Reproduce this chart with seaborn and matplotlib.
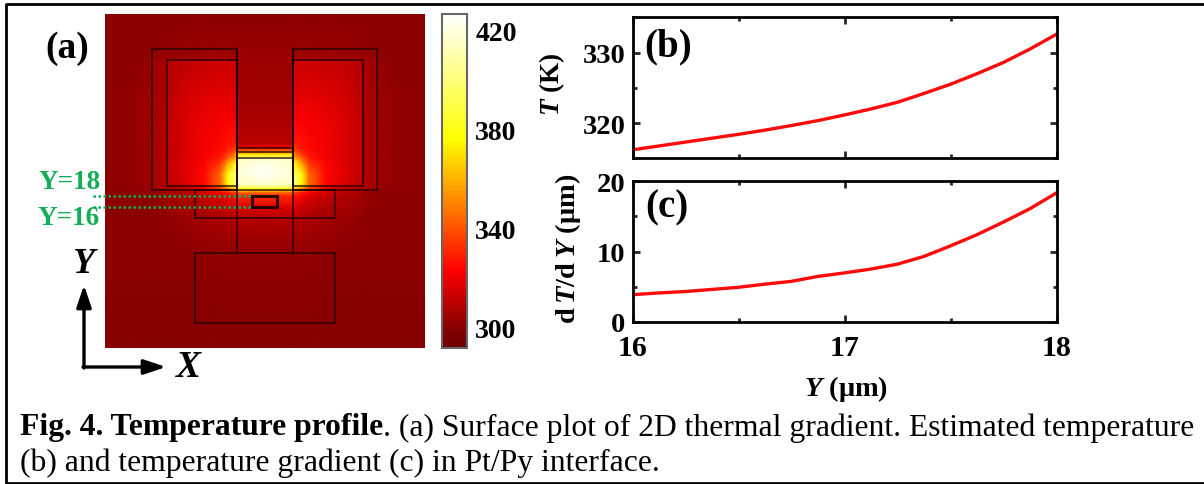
import numpy as np
import pandas as pd
import seaborn as sns
import matplotlib.pyplot as plt
from matplotlib.colors import LinearSegmentedColormap, Normalize
from matplotlib.patches import Rectangle
from matplotlib.transforms import ScaledTranslation

sns.set_theme(style="ticks")
plt.rcParams['font.family'] = ['Liberation Serif', 'DejaVu Serif']
plt.rcParams['text.color'] = 'black'
plt.rcParams['xtick.labelcolor'] = 'black'
plt.rcParams['ytick.labelcolor'] = 'black'
plt.rcParams['mathtext.fontset'] = 'custom'
plt.rcParams['mathtext.rm'] = 'Liberation Serif'
plt.rcParams['mathtext.bf'] = 'Liberation Serif:bold'
plt.rcParams['mathtext.bfit'] = 'Liberation Serif:italic:bold'

# line data, panels (b) and (c)
y_um = [16, 16.125, 16.25, 16.375, 16.5, 16.625, 16.75, 16.875, 17,
        17.125, 17.25, 17.375, 17.5, 17.625, 17.75, 17.875, 18]
temperature = [316.2, 316.75, 317.3, 317.85, 318.4, 319.0, 319.65, 320.35, 321.15,
               322.0, 322.95, 324.2, 325.5, 327.0, 328.6, 330.5, 332.6]
gradient = [3.85, 4.1, 4.3, 4.6, 4.9, 5.35, 5.75, 6.45, 6.95,
            7.5, 8.2, 9.3, 10.8, 12.4, 14.2, 16.1, 18.35]

# surface plot: right half of the device, mirrored below
field_x = [0, 4.9, 5.3, 6.7, 8, 11, 14, 17.6, 18, 20.2, 20.6, 24, 29.1]
field_y = [51.1, 45, 43, 42.5, 36, 31, 27.5, 26.9, 26, 25.5, 25, 24.7, 24, 22,
           20, 19.3, 18.6, 18, 16, 14, 10, 7, -9.6]
field_t = [
    [300, 300, 300, 300, 300, 300, 300, 300, 300, 300, 300, 300, 300],
    [302, 302, 302, 302, 302, 302, 302, 301, 301, 300, 300, 300, 300],
    [303, 303, 303, 304, 304, 304, 303, 303, 303, 302, 301, 300, 300],
    [303, 303, 311, 312, 312, 311, 310, 308, 305, 303, 302, 300, 300],
    [304, 304, 316, 317, 317, 316, 314, 309, 306, 304, 303, 301, 300],
    [306, 306, 322, 322, 321, 319, 316, 310, 307, 305, 303, 301, 300],
    [309, 309, 328, 326, 323, 320, 316, 310, 307, 305, 303, 301, 300],
    [318, 318, 330, 326, 323, 320, 316, 310, 307, 305, 303, 301, 300],
    [350, 350, 340, 330, 325, 320, 316, 310, 307, 305, 303, 301, 300],
    [370, 370, 347, 335, 326, 320, 316, 310, 307, 305, 303, 301, 300],
    [395, 395, 355, 340, 327, 320, 316, 310, 307, 305, 303, 301, 300],
    [415, 412, 360, 345, 329, 321, 316, 310, 307, 305, 303, 301, 300],
    [422, 415, 375, 355, 333, 322, 317, 310, 307, 305, 303, 301, 300],
    [424, 418, 400, 375, 345, 323, 317, 310, 307, 305, 303, 301, 300],
    [415, 412, 400, 375, 345, 323, 316, 309, 307, 305, 303, 301, 300],
    [380, 375, 365, 350, 335, 318, 312, 306, 304, 303, 302, 301, 300],
    [345, 342, 335, 328, 320, 314, 309, 305, 303, 302, 301, 300, 300],
    [332, 330, 326, 322, 316, 311, 307, 304, 302, 301, 301, 300, 300],
    [316, 315, 314, 312, 310, 307, 305, 303, 301, 301, 300, 300, 300],
    [308, 308, 308, 307, 306, 304, 303, 301, 301, 300, 300, 300, 300],
    [303, 303, 303, 303, 302, 302, 301, 300, 300, 300, 300, 300, 300],
    [301, 301, 301, 301, 301, 300, 300, 300, 300, 300, 300, 300, 300],
    [299, 299, 299, 299, 299, 299, 299, 299, 299, 299, 299, 299, 299],
]

# device outline in the same coordinates: x0, y0, width, height
pad_outer = [5.1, 19.1, 15.3, 25.6]
pad_inner = [5.1, 19.8, 12.7, 22.9]
middle_rect = [-12.7, 14.0, 25.4, 5.1]
lower_rect = [-12.7, -5.1, 25.4, 12.7]
sample_rect = [-2.27, 16, 4.54, 2]
bridge_y = [26.7, 26.0, 24.9]
channel_x = [-5.1, 5.1]
channel_y = [7.6, 44.7]
marker_y = [18, 16]

cbar_major = [300, 340, 380, 420]
cbar_ticks = [300 + 40 * i / 3 for i in range(10)]

W, H = 1204, 485
LINE = '#1a0000'
GREEN = '#12ad55'
RED = '#ff0a0a'

heat = LinearSegmentedColormap.from_list('heat', [
    (0, '#6e0000'), (0.06, '#880000'), (0.23, '#ff0000'),
    (0.626, '#ffff00'), (1, '#ffffff')])
norm = Normalize(290.7, 425.7)


def axes_px(left, top, right, bottom):
    return [left / W, 1 - bottom / H, (right - left) / W, (bottom - top) / H]


def box(rect, lw=1.2, color=LINE):
    return Rectangle(rect[:2], rect[2], rect[3], fill=False, ec=color, lw=lw, alpha=0.8)


fig = plt.figure(figsize=(W / 100, H / 100), dpi=100)

# page layer for frame, caption, labels and arrows
page = fig.add_axes([0, 0, 1, 1])
page.set_xlim(0, W)
page.set_ylim(H, 0)
page.axis('off')
page.plot([W, 5.5, 5.5, W], [4.5, 4.5, 483.5, 483.5], color='black', lw=2, clip_on=False)
page.text(45, 48, '(a)', fontsize=27, fontweight='bold', va='center')
page.text(70, 183, 'Y=18', fontsize=19.5, fontweight='bold', color=GREEN, ha='center', va='center')
page.text(69, 219, 'Y=16', fontsize=19.5, fontweight='bold', color=GREEN, ha='center', va='center')
page.text(83, 265, 'Y', fontsize=26, fontweight='bold', style='italic', ha='center', va='center')
page.text(188, 368, 'X', fontsize=27, fontweight='bold', style='italic', ha='center', va='center')
arrow = dict(arrowstyle='-|>,head_width=0.32,head_length=0.95', color='black', lw=2.4,
             shrinkA=0, shrinkB=0, mutation_scale=14)
page.annotate('', xy=(84, 286), xytext=(84, 369), arrowprops=arrow)
page.annotate('', xy=(166, 368), xytext=(83, 368), arrowprops=arrow)
page.text(846, 389, r'$\mathbfit{Y}$ ($\mathbf{\mu}$m)', fontsize=20.5, fontweight='bold', ha='center', va='center')
head = page.text(20, 428, 'Fig. 4. Temperature profile', fontsize=22.8, fontweight='bold', va='center')
head_box = head.get_window_extent(fig.canvas.get_renderer())
page.text(head_box.x1, 428, '. (a) Surface plot of 2D thermal gradient. Estimated temperature',
          fontsize=22.8, va='center')
page.text(20, 463, '(b) and temperature gradient (c) in Pt/Py interface.', fontsize=22.8, va='center')

# panel (a)
half_x = np.array(field_x)
half_t = np.array(field_t)
xs = np.concatenate([-half_x[:0:-1], half_x])
zs = np.hstack([half_t[:, :0:-1], half_t])
ax_a = fig.add_axes(axes_px(104.5, 15, 425, 349))
mesh = ax_a.pcolormesh(xs, field_y, zs, cmap=heat, norm=norm, shading='gouraud', rasterized=True)
ax_a.set_xlim(xs[0], xs[-1])
ax_a.set_ylim(field_y[-1], field_y[0])
ax_a.axis('off')
for side in [1, -1]:
    for r in [pad_outer, pad_inner]:
        x0 = r[0] if side == 1 else -r[0] - r[2]
        ax_a.add_patch(box([x0, r[1], r[2], r[3]]))
for r in [middle_rect, lower_rect]:
    ax_a.add_patch(box(r))
ax_a.add_patch(box(sample_rect, lw=2.2, color='black'))
ax_a.hlines(bridge_y, channel_x[0], channel_x[1], color=LINE, lw=1.2, alpha=0.8)
ax_a.vlines(channel_x, channel_y[0], channel_y[1], color=LINE, lw=1.2, alpha=0.8)
ax_a.hlines(marker_y, -31.1, sample_rect[0], color=GREEN, lw=1.8, ls=(0, (1, 1)), clip_on=False)

# colour bar
cax = fig.add_axes(axes_px(442, 15, 467, 349))
cbar = fig.colorbar(mesh, cax=cax)
cbar.set_ticks(cbar_ticks)
cbar.set_ticklabels(['%d' % round(t) if round(t) in cbar_major else '' for t in cbar_ticks])
cax.tick_params(direction='in', length=4, width=1, color='#444444', labelsize=20, pad=6)
nudge = ScaledTranslation(0, -2.5 / 100, fig.dpi_scale_trans)
for lab in cax.get_yticklabels():
    lab.set_fontweight('bold')
    lab.set_transform(lab.get_transform() + nudge)
cbar.outline.set_edgecolor('#666666')
cbar.outline.set_linewidth(1.5)

# panels (b) and (c)
df = pd.DataFrame({'Y': y_um, 'T': temperature, 'dT': gradient})
ax_b = fig.add_axes(axes_px(632.5, 18.3, 1056.5, 159.3))
ax_c = fig.add_axes(axes_px(632.5, 182.3, 1056.5, 322.7))
sns.lineplot(data=df, x='Y', y='T', ax=ax_b, color=RED, lw=2.4, errorbar=None)
sns.lineplot(data=df, x='Y', y='dT', ax=ax_c, color=RED, lw=2.4, errorbar=None)
ax_b.set_ylim(315, 335)
ax_b.set_yticks([320, 330])
ax_b.set_yticks([315, 325, 335], minor=True)
ax_c.set_ylim(0, 20)
ax_c.set_yticks([0, 10, 20])
ax_c.set_yticks([5, 15], minor=True)
for ax in [ax_b, ax_c]:
    ax.set_xlim(16, 18)
    ax.set_xticks([16, 17, 18])
    ax.set_xticks([16.5, 17.5], minor=True)
    ax.set_xlabel('')
    ax.set_ylabel('')
    ax.tick_params(which='major', direction='in', length=5, width=2, top=True, right=True, labelsize=20.5, pad=5)
    ax.tick_params(which='minor', direction='in', length=3, width=2, top=True, right=True)
    ax.tick_params(axis='x', pad=9, labelsize=21.5)
    for lab in ax.get_xticklabels() + ax.get_yticklabels():
        lab.set_fontweight('bold')
    for s in ax.spines.values():
        s.set_linewidth(2)
        s.set_color('black')
ax_b.set_xticklabels([])
ax_b.text(0.027, 0.80, '(b)', transform=ax_b.transAxes, fontsize=28, fontweight='bold', va='center')
ax_c.text(0.03, 0.817, '(c)', transform=ax_c.transAxes, fontsize=28, fontweight='bold', va='center')
page.text(552, 84, r'$\mathbfit{T}$ (K)', fontsize=19.5, fontweight='bold', rotation=90, ha='center', va='center')
page.text(568, 249, r'd$\,\mathbfit{T}$/d$\,\mathbfit{Y}$ ($\mathbf{\mu}$m)', fontsize=20.5, fontweight='bold',
          rotation=90, ha='center', va='center')

fig.savefig('out.png', dpi=100)
